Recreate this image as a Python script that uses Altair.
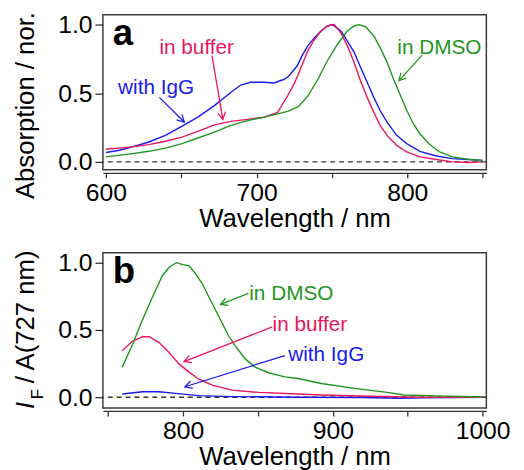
import math
import altair as alt
import pandas as pd

FONT = "Liberation Sans"
SERIES = ["with IgG", "in buffer", "in DMSO"]
COLORS = ["#1a1af0", "#e8175d", "#1e961e"]

# ---------------- panel a : absorption (normalised) ----------------
a_igg_nm = [600, 609, 617.5, 628.5, 639.5, 651.5, 661, 672, 683, 689.5, 696, 705, 711.5, 718, 721, 724,
            727, 730, 734, 738.4, 742.8, 747, 750.4, 756, 760.3, 764.7, 769, 773.4, 777.8, 782, 786.6,
            793, 799.7, 808.4, 819.4, 830, 841, 850]
a_igg_val = [0.068, 0.085, 0.109, 0.145, 0.193, 0.266, 0.326, 0.41, 0.507, 0.56, 0.58, 0.58, 0.575, 0.60,
             0.62, 0.66, 0.70, 0.77, 0.845, 0.905, 0.954, 0.99, 1.0, 0.954, 0.88, 0.80, 0.69, 0.58, 0.47,
             0.374, 0.29, 0.193, 0.133, 0.077, 0.043, 0.024, 0.017, 0.01]
a_buf_nm = [600, 617.5, 628.5, 639.5, 650.5, 661, 672, 683, 694, 705, 714, 720.5, 725, 727, 729.6, 734,
            738.4, 742.8, 747, 751.5, 756, 760.3, 764.7, 769, 773.4, 777.8, 782, 786.6, 793, 799.7, 808.4,
            819.4, 830, 841, 850]
a_buf_val = [0.092, 0.109, 0.126, 0.15, 0.18, 0.222, 0.27, 0.295, 0.31, 0.325, 0.36, 0.48, 0.57, 0.62,
             0.69, 0.81, 0.89, 0.954, 0.99, 1.0, 0.94, 0.845, 0.725, 0.59, 0.47, 0.36, 0.266, 0.193, 0.12,
             0.072, 0.036, 0.017, 0.0, -0.005, 0.0]
a_dmso_nm = [600, 617.5, 628.5, 639.5, 650.5, 661, 672, 683, 694, 705, 716, 721, 727.5, 734, 740.6, 747,
             753.7, 760.3, 764.7, 768, 772.3, 777.8, 782, 786.6, 791, 795.5, 799.7, 804, 808.4, 815,
             821.5, 830, 841, 850]
a_dmso_val = [0.036, 0.06, 0.077, 0.10, 0.133, 0.174, 0.217, 0.266, 0.30, 0.326, 0.355, 0.37, 0.40, 0.48,
              0.60, 0.737, 0.857, 0.954, 0.99, 1.0, 0.985, 0.918, 0.833, 0.725, 0.60, 0.483, 0.374, 0.278,
              0.205, 0.126, 0.072, 0.036, 0.017, 0.01]

a_label_nm = [608.1, 635.5, 793.4]
a_label_val = [0.495, 0.785, 0.785]
a_from_nm = [635.5, 670.4, 809.9]
a_from_val = [0.47, 0.775, 0.778]
a_to_nm = [652.0, 677.6, 794.5]
a_to_val = [0.29, 0.31, 0.592]

# ---------------- panel b : fluorescence ----------------
b_igg_nm = [759.4, 773, 784, 795, 810.6, 832.7, 876.8, 920, 945, 960, 1000]
b_igg_val = [0.024, 0.041, 0.041, 0.029, 0.012, 0.005, 0.0, -0.002, -0.007, -0.005, 0.0]
b_buf_nm = [759.4, 766.4, 773, 777.5, 784, 790.7, 797.3, 804, 810.6, 819.5, 832.7, 850.3, 876.8, 892.3,
            925.5, 958.6, 1000]
b_buf_val = [0.345, 0.418, 0.45, 0.45, 0.406, 0.333, 0.248, 0.187, 0.134, 0.09, 0.053, 0.036, 0.024,
             0.017, 0.007, 0.0, 0.0]
b_dmso_nm = [759.4, 766.4, 773, 779.7, 786.3, 790.7, 795.6, 799.6, 804, 808.4, 812.8, 817.2, 821.6, 826,
             830.5, 834.9, 841.5, 848.1, 857, 868, 876.8, 892.3, 914.4, 936.4, 947.5, 969.5, 1000]
b_dmso_val = [0.224, 0.394, 0.577, 0.747, 0.905, 0.966, 1.0, 0.985, 0.978, 0.917, 0.845, 0.747, 0.65,
              0.553, 0.455, 0.382, 0.285, 0.224, 0.182, 0.151, 0.139, 0.102, 0.066, 0.036, 0.017, 0.01,
              0.002]

b_label_nm = [870.2, 859.8, 844.2]
b_label_val = [0.272, 0.491, 0.723]
b_from_nm = [868.0, 859.6, 843.7]
b_from_val = [0.31, 0.523, 0.772]
b_to_nm = [801.3, 800.7, 825.0]
b_to_val = [0.078, 0.265, 0.69]

W, H = 388, 157
ARROW = "M -1 -0.55 L 0 0 L -1 0.55"


def panel(curves, labels, xdom, ydom, xvals, letter, title_parts):
    kx = W / (xdom[1] - xdom[0])
    ky = H / (ydom[1] - ydom[0])
    color = alt.Color("series:N", scale=alt.Scale(domain=SERIES, range=COLORS), legend=None)
    xscale = alt.Scale(domain=xdom, nice=False, zero=False)
    yscale = alt.Scale(domain=ydom, nice=False, zero=False)
    xaxis = alt.Axis(values=xvals, format="d",
                     labelExpr="datum.value % 100 === 0 ? datum.label : ''",
                     offset=3, tickSize=5, labelPadding=3, titlePadding=0)
    yaxis = alt.Axis(values=[0, 0.5, 1.0], format=".1f", domain=False, tickSize=8, labelPadding=3)

    def X(f):
        return alt.X(f, type="quantitative", scale=xscale, axis=xaxis, title="Wavelength / nm")

    def Y(f):
        return alt.Y(f, type="quantitative", scale=yscale, axis=yaxis, title="")

    rows = []
    for name, (xs, ys) in zip(SERIES, curves):
        for x, y in zip(xs, ys):
            rows.append({"series": name, "nm": x, "v": y})
    df = pd.DataFrame(rows)

    lnm, lval, fnm, fval, tnm, tval = labels
    ann = []
    for i, name in enumerate(SERIES):
        dx = (tnm[i] - fnm[i]) * kx
        dy = -(tval[i] - fval[i]) * ky
        ang = math.degrees(math.atan2(dy, dx)) % 360
        ann.append({"series": name, "lx": lnm[i], "ly": lval[i], "fx": fnm[i], "fy": fval[i],
                    "nm": tnm[i], "v": tval[i], "ang": ang})
    adf = pd.DataFrame(ann)

    zero = alt.Chart(pd.DataFrame({"v": [0.0]})).mark_rule(
        strokeDash=[5, 4], color="#333333", strokeWidth=1.5).encode(y=Y("v"))
    lines = alt.Chart(df).mark_line(strokeWidth=1.4).encode(x=X("nm"), y=Y("v"), color=color)
    texts = alt.Chart(adf).mark_text(font=FONT, fontSize=21, align="left", baseline="alphabetic").encode(
        x=X("lx"), y=Y("ly"), text="series:N", color=color)
    shafts = alt.Chart(adf).mark_rule(strokeWidth=1.3).encode(
        x=X("fx"), y=Y("fy"), x2="nm", y2="v", color=color)
    heads = alt.Chart(adf).mark_point(shape=ARROW, filled=False, size=200, strokeWidth=1.3, opacity=1).encode(
        x=X("nm"), y=Y("v"), color=color, angle=alt.Angle("ang:Q", scale=None))
    let = alt.Chart(pd.DataFrame({"t": [letter]})).mark_text(
        font=FONT, fontSize=37, fontWeight="bold", align="left", baseline="alphabetic", color="black"
    ).encode(text="t:N", x=alt.value(10), y=alt.value(31))

    layers = [zero, lines, shafts, heads, texts, let]
    for text, px, py, size, style, align in title_parts:
        layers.append(alt.Chart(pd.DataFrame({"t": [text]})).mark_text(
            font=FONT, fontSize=size, fontStyle=style, align=align, baseline="alphabetic",
            angle=270, color="black").encode(text="t:N", x=alt.value(px), y=alt.value(py)))
    return alt.layer(*layers).properties(width=W, height=H)


pa = panel([(a_igg_nm, a_igg_val), (a_buf_nm, a_buf_val), (a_dmso_nm, a_dmso_val)],
           (a_label_nm, a_label_val, a_from_nm, a_from_val, a_to_nm, a_to_val),
           [598, 852.5], [-0.058, 1.0725], [600, 650, 700, 750, 800, 850], "a",
           [("Absorption / nor.", -70, 92, 26, "normal", "center")])
pb = panel([(b_igg_nm, b_igg_val), (b_buf_nm, b_buf_val), (b_dmso_nm, b_dmso_val)],
           (b_label_nm, b_label_val, b_from_nm, b_from_val, b_to_nm, b_to_val),
           [746.5, 1002.5], [-0.08, 1.073], [750, 800, 850, 900, 950, 1000], "b",
           [("I", -70, 158, 26, "italic", "left"),
            ("F", -61, 148, 17, "normal", "left"),
            ("/ A(727 nm)", -70, 132, 26, "normal", "left")])

chart = alt.vconcat(pa, pb, spacing=16).properties(
    padding={"left": 4, "top": 0, "right": 5, "bottom": 0}
).configure_view(stroke="#3c3c3c", strokeWidth=1.5).configure_axis(
    grid=False, labelFont=FONT, titleFont=FONT, labelFontSize=25, titleFontSize=26,
    titleFontWeight="normal", labelColor="black", titleColor="black",
    domainColor="#333333", tickColor="#333333", domainWidth=1.3, tickWidth=1.3, labelFlush=False
)

chart.save("out.html", embed_options={"renderer": "svg", "actions": False})
